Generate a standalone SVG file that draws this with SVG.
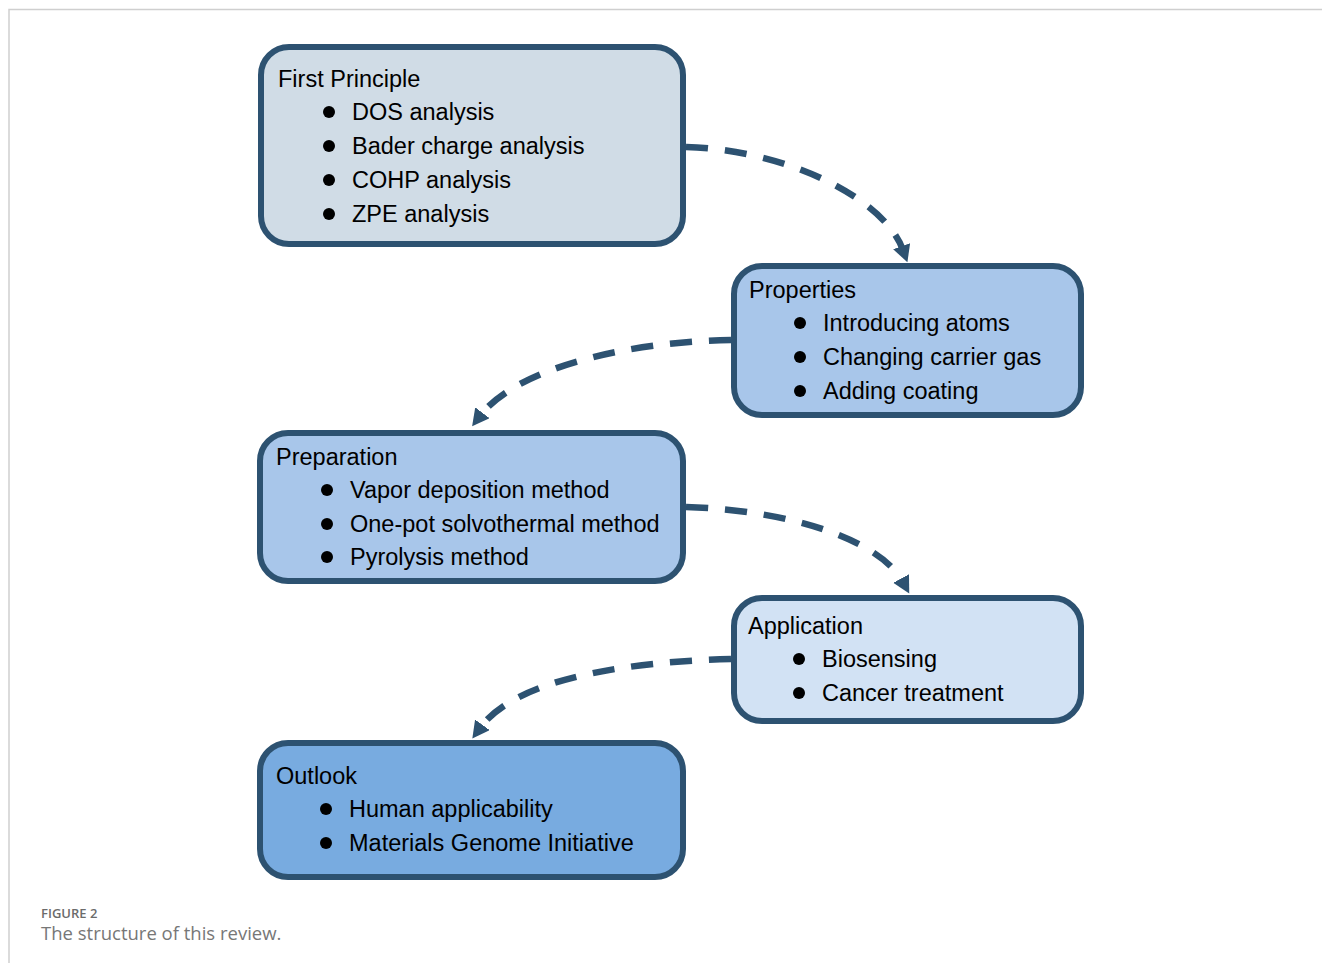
<svg xmlns="http://www.w3.org/2000/svg" width="1322" height="963" viewBox="0 0 1322 963">
<defs>
<style>
.box{stroke:#2d5271;stroke-width:6}
.t{font-family:"Liberation Sans",Arial,sans-serif;font-size:23.5px;fill:#000}
.dot{fill:#000}
.con{fill:none;stroke:#2d5271;stroke-width:6.5;stroke-dasharray:22 17}
.frame{stroke:#cfcfcf;stroke-width:1.5;fill:none}
.cap1{font-family:"Open Sans","Noto Sans",sans-serif;font-size:13px;font-weight:600;fill:#6b6b6b}
.cap2{font-family:"Open Sans","Noto Sans",sans-serif;font-size:18.5px;fill:#777}
</style>
<marker id="ah" markerUnits="userSpaceOnUse" markerWidth="20" markerHeight="20" refX="4" refY="9" orient="auto">
<path d="M0,0 L17,9 L0,18 z" fill="#2d5271"/>
</marker>
</defs>
<rect width="1322" height="963" fill="#fff"/>
<path class="frame" d="M9,963 V9.5 H1322"/>

<g id="connectors">
<path class="con" d="M686,147 C790,150 885,200 903,250" marker-end="url(#ah)"/>
<path class="con" d="M731,340 C620,342 515,370 480,416" marker-end="url(#ah)"/>
<path class="con" d="M686,507 C790,510 880,540 903,582" marker-end="url(#ah)"/>
<path class="con" d="M731,659 C620,662 515,680 480,728" marker-end="url(#ah)"/>
</g>

<g id="first-principle">
<rect class="box" x="261" y="47" width="422" height="197" rx="28" fill="#d0dce6"/>
<text class="t" x="278" y="87">First Principle</text>
<circle class="dot" cx="329" cy="112" r="6"/><text class="t" x="352" y="120">DOS analysis</text>
<circle class="dot" cx="329" cy="146" r="6"/><text class="t" x="352" y="154">Bader charge analysis</text>
<circle class="dot" cx="329" cy="180" r="6"/><text class="t" x="352" y="188">COHP analysis</text>
<circle class="dot" cx="329" cy="214" r="6"/><text class="t" x="352" y="222">ZPE analysis</text>
</g>

<g id="properties">
<rect class="box" x="734" y="266" width="347" height="149" rx="28" fill="#a8c6ea"/>
<text class="t" x="749" y="298">Properties</text>
<circle class="dot" cx="800" cy="323" r="6"/><text class="t" x="823" y="331">Introducing atoms</text>
<circle class="dot" cx="800" cy="357" r="6"/><text class="t" x="823" y="365">Changing carrier gas</text>
<circle class="dot" cx="800" cy="391" r="6"/><text class="t" x="823" y="399">Adding coating</text>
</g>

<g id="preparation">
<rect class="box" x="260" y="433" width="423" height="148" rx="28" fill="#a8c6ea"/>
<text class="t" x="276" y="465">Preparation</text>
<circle class="dot" cx="327" cy="490" r="6"/><text class="t" x="350" y="498">Vapor deposition method</text>
<circle class="dot" cx="327" cy="524" r="6"/><text class="t" x="350" y="532">One-pot solvothermal method</text>
<circle class="dot" cx="327" cy="557" r="6"/><text class="t" x="350" y="565">Pyrolysis method</text>
</g>

<g id="application">
<rect class="box" x="734" y="598" width="347" height="123" rx="28" fill="#d2e2f4"/>
<text class="t" x="748" y="634">Application</text>
<circle class="dot" cx="799" cy="659" r="6"/><text class="t" x="822" y="667">Biosensing</text>
<circle class="dot" cx="799" cy="693" r="6"/><text class="t" x="822" y="701">Cancer treatment</text>
</g>

<g id="outlook">
<rect class="box" x="260" y="743" width="423" height="134" rx="28" fill="#78abe0"/>
<text class="t" x="276" y="784">Outlook</text>
<circle class="dot" cx="326" cy="809" r="6"/><text class="t" x="349" y="817">Human applicability</text>
<circle class="dot" cx="326" cy="843" r="6"/><text class="t" x="349" y="851">Materials Genome Initiative</text>
</g>

<g id="caption">
<text class="cap1" x="41" y="918">FIGURE 2</text>
<text class="cap2" x="41" y="940">The structure of this review.</text>
</g>
</svg>
